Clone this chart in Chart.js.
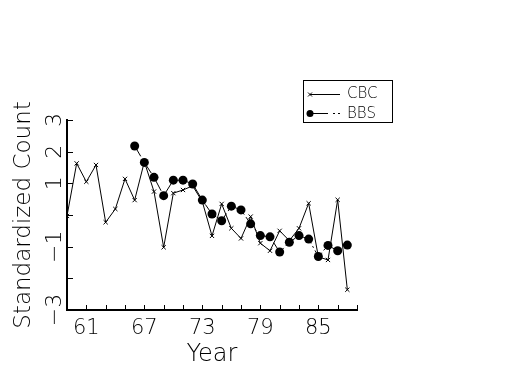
<!DOCTYPE html>
<html lang="en">
<head>
  <meta charset="UTF-8">
  <title>CBC vs BBS</title>
  <script src="https://cdn.jsdelivr.net/npm/chart.js"></script>
  <style>
    html, body { margin: 0; padding: 0; background: #fff; }
    #wrap { width: 525px; height: 375px; }
  </style>
</head>
<body>
  <div id="wrap"><canvas id="countChart" width="525" height="375"></canvas></div>
  <script>
    // data
    const cbcYears = [59, 60, 61, 62, 63, 64, 65, 66, 67, 68, 69, 70, 71, 72, 73,
                      74, 75, 76, 77, 78, 79, 80, 81, 82, 83, 84, 85, 86, 87, 88];
    const cbcValues = [-0.03, 1.63, 1.05, 1.58, -0.23, 0.19, 1.14, 0.47, 1.68, 0.74, -1.02, 0.69, 0.79, 0.92, 0.42,
                       -0.66, 0.35, -0.42, -0.74, -0.05, -0.89, -1.13, -0.5, -0.81, -0.42, 0.37, -1.32, -1.42, 0.48, -2.36];
    const bbsYears = [66, 67, 68, 69, 70, 71, 72, 73, 74, 75, 76, 77,
                      78, 79, 80, 81, 82, 83, 84, 85, 86, 87, 88];
    const bbsValues = [2.18, 1.66, 1.19, 0.61, 1.1, 1.1, 0.98, 0.47, 0.03, -0.18, 0.28, 0.16,
                       -0.28, -0.65, -0.69, -1.17, -0.86, -0.65, -0.76, -1.31, -0.96, -1.13, -0.95];
    const xTickLabels = [61, 67, 73, 79, 85];
    const yTickLabels = [3, 2, 1, -1, -3];

    const FONT = "'DejaVu Sans', 'Liberation Sans', sans-serif";

    // inward tick marks on the two axes
    const inwardTicks = {
      id: 'inwardTicks',
      afterDraw(chart) {
        const ctx = chart.ctx;
        const xs = chart.scales.x, ys = chart.scales.y;
        const area = chart.chartArea;
        ctx.save();
        ctx.strokeStyle = '#000';
        ctx.lineWidth = 1;
        ctx.beginPath();
        for (let v = -3; v <= 3; v++) {
          const py = Math.round(ys.getPixelForValue(v)) + 0.5;
          ctx.moveTo(area.left, py);
          ctx.lineTo(area.left + 6, py);
        }
        for (let v = 59; v <= 89; v += 2) {
          const px = Math.round(xs.getPixelForValue(v)) + 0.5;
          ctx.moveTo(px, area.bottom);
          ctx.lineTo(px, area.bottom - 5);
        }
        ctx.stroke();
        ctx.restore();
      }
    };

    // boxed legend in the upper right
    const boxLegend = {
      id: 'boxLegend',
      afterDraw(chart) {
        const ctx = chart.ctx;
        ctx.save();
        ctx.strokeStyle = '#000';
        ctx.fillStyle = '#000';
        ctx.lineWidth = 1;
        ctx.strokeRect(303.5, 80.5, 89, 42);
        // CBC
        ctx.beginPath();
        ctx.moveTo(310, 94.5); ctx.lineTo(340, 94.5);
        ctx.moveTo(308, 92.5); ctx.lineTo(312, 96.5);
        ctx.moveTo(308, 96.5); ctx.lineTo(312, 92.5);
        ctx.stroke();
        // BBS
        ctx.beginPath();
        ctx.moveTo(310, 113.5); ctx.lineTo(328, 113.5);
        ctx.moveTo(333, 113.5); ctx.lineTo(335, 113.5);
        ctx.moveTo(338, 113.5); ctx.lineTo(340, 113.5);
        ctx.stroke();
        ctx.beginPath();
        ctx.arc(310, 113.5, 3.5, 0, Math.PI * 2);
        ctx.fill();
        ctx.font = '200 15px ' + FONT;
        ctx.textBaseline = 'middle';
        ctx.fillText('CBC', 347, 94.5);
        ctx.fillText('BBS', 347, 114);
        ctx.restore();
      }
    };

    const ctx = document.getElementById('countChart').getContext('2d');
    new Chart(ctx, {
      type: 'line',
      data: {
        datasets: [
          {
            label: 'CBC',
            data: cbcYears.map((yr, i) => ({ x: yr, y: cbcValues[i] })),
            borderColor: '#000',
            backgroundColor: '#000',
            borderWidth: 1,
            pointStyle: 'crossRot',
            pointRadius: 3,
            pointBorderWidth: 1,
            tension: 0
          },
          {
            label: 'BBS',
            data: bbsYears.map((yr, i) => ({ x: yr, y: bbsValues[i] })),
            borderColor: '#000',
            backgroundColor: '#000',
            borderWidth: 1,
            borderDash: [12, 3, 2, 3],
            pointStyle: 'circle',
            pointRadius: 4.5,
            pointBorderWidth: 0,
            tension: 0
          }
        ]
      },
      options: {
        responsive: false,
        animation: false,
        layout: { padding: { top: 120, right: 168, bottom: 0, left: 0 } },
        plugins: {
          legend: { display: false },
          tooltip: { enabled: false }
        },
        scales: {
          x: {
            type: 'linear',
            min: 59,
            max: 89,
            afterFit(scale) { scale.height = 65; },
            grid: { display: false, drawTicks: false },
            border: { display: true, color: '#000', width: 2 },
            ticks: {
              stepSize: 2,
              padding: 6,
              color: '#000',
              maxRotation: 0,
              autoSkip: false,
              font: { family: FONT, size: 21, weight: 200 },
              callback: (v) => xTickLabels.includes(v) ? String(v) : ''
            },
            title: {
              display: true,
              text: 'Year',
              color: '#000',
              font: { family: FONT, size: 24, weight: 200 },
              padding: { top: 0, bottom: 6 }
            }
          },
          y: {
            type: 'linear',
            min: -3,
            max: 3,
            afterFit(scale) { scale.width = 67; },
            grid: { display: false, drawTicks: false },
            border: { display: true, color: '#000', width: 2 },
            ticks: {
              stepSize: 1,
              padding: -4,
              color: '#000',
              minRotation: 90,
              maxRotation: 90,
              crossAlign: 'center',
              autoSkip: false,
              font: { family: FONT, size: 22, weight: 200 },
              callback: (v) => yTickLabels.includes(v) ? (v < 0 ? '\u2212' + Math.abs(v) : String(v)) : ''
            },
            title: {
              display: true,
              text: 'Standardized Count',
              color: '#000',
              font: { family: FONT, size: 23, weight: 200 },
              padding: { top: 10, bottom: 0 }
            }
          }
        }
      },
      plugins: [inwardTicks, boxLegend]
    });
  </script>
</body>
</html>
